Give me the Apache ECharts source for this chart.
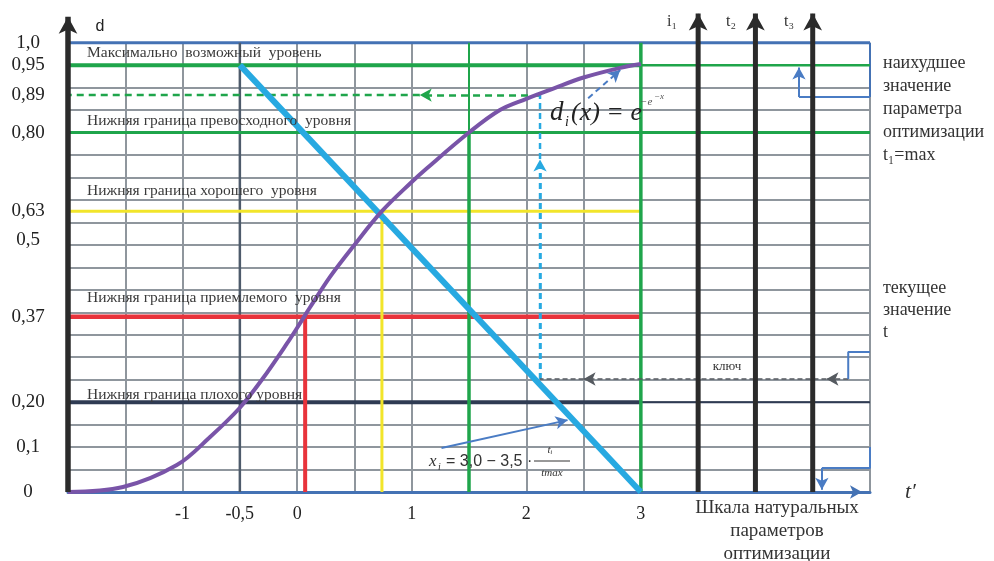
<!DOCTYPE html>
<html>
<head>
<meta charset="utf-8">
<script src="https://cdn.jsdelivr.net/npm/echarts@6/dist/echarts.min.js"></script>
<style>html,body{margin:0;padding:0;background:#fff}#c{width:994px;height:561px}</style>
</head>
<body>
<div id="c"></div>
<script>
// ---- data (y axis counted in grid rows 0..20; d tick labels sit on rows) ----
const dTickLabels = ['1,0', '0,95', '0,89', '0,80', '0,63', '0,5', '0,37', '0,20', '0,1', '0'];
const dTickRows   = [20, 19, 17.67, 16, 12.5, 11.2, 7.8, 4, 2, 0];
const xTickValues = [-1, -0.5, 0, 1, 2, 3];

const levelNames = ['Максимально  возможный  уровень', 'Нижняя граница превосходного  уровня',
  'Нижняя граница хорошего  уровня', 'Нижняя граница приемлемого  уровня', 'Нижняя граница плохого уровня'];
const levelRows = [19, 16, 12.5, 7.8, 4];          // 0,95  0,80  0,63  0,37  0,20

// desirability curve d(x)
const curveX   = [-2, -1.52, -1.05, -0.76, -0.5, -0.3, -0.09, 0.03, 0.11, 0.29, 0.5, 0.74, 1.0, 1.13, 1.5, 1.77, 2.0, 2.1, 2.23, 2.5, 2.82, 3.0];
const curveRow = [0, 0.22, 1.2, 2.45, 3.75, 5.05, 6.6, 7.55, 8.2, 9.6, 11.0, 12.5, 13.8, 14.4, 16.0, 17.0, 17.5, 17.7, 17.95, 18.45, 18.88, 19.05];

// linear transformation of the natural parameter
const transformX   = [-0.5, 3];
const transformRow = [19, 0];

const goodX = 0.74;       // x at d = 0,63
const acceptX = 0.07;     // x at d = 0,37
const excellentX = 1.5;   // x at d = 0,80
const maxX = 3;           // x at d = 0,95
const exampleX = 2.12, exampleRow = 17.67, keyRow = 5.03;
const naturalAxesX = [3.5, 4, 4.5];
const naturalAxesNames = ['i₁', 't₂', 't₃'];

// ---- chart ----
const serif = "'Liberation Serif', 'DejaVu Serif', serif";
const C = {grid:'#8f969d', slate:'#4e5b6b', navy:'#2f3b53', blue:'#4472b4', green:'#1fa54b',
  yellow:'#f2e52a', red:'#e8333b', purple:'#7954a8', cyan:'#27a9e1', black:'#2b2b2b', arrowBlue:'#4a7cc4', key:'#555a60'};

function seg(data, color, width, z, type) {
  return {type:'line', data, symbol:'none', silent:true, animation:false, z, clip:false,
    lineStyle:{color, width, type:type || 'solid', cap:'butt'}};
}
function arrow(from, to, color, width, z, type, size) {
  return {type:'line', data:[], z, silent:true, animation:false,
    markLine:{silent:true, animation:false, symbol:['none','arrow'], symbolSize:size || [10,12],
      label:{show:false}, emphasis:{disabled:true},
      lineStyle:{color, width, type:type || 'solid'},
      data:[[{coord:from}, {coord:to}]]}};
}
function upAxis(x, topRow, width, z) {
  return {type:'line', silent:true, animation:false, z, clip:false, symbol:'none', showSymbol:true,
    lineStyle:{color:C.black, width}, itemStyle:{color:C.black},
    data:[{value:[x, 0]}, {value:[x, topRow], symbol:'arrow', symbolSize:[14,17]}]};
}

const series = [];
// frame lines
series.push(seg([[-2,20],[5,20]], C.blue, 3, 3));
series.push(seg([[5,20],[5,17.58]], C.blue, 2, 3));
series.push(seg([[-0.5,0],[-0.5,20]], C.slate, 2.5, 3));
// level lines
series.push(seg([[-2,levelRows[0]],[maxX,levelRows[0]]], C.green, 4, 4));
series.push(seg([[maxX,levelRows[0]],[5,levelRows[0]]], C.green, 2.5, 4));
series.push(seg([[-2,levelRows[1]],[5,levelRows[1]]], C.green, 3, 4));
series.push(seg([[-2,levelRows[2]],[maxX,levelRows[2]]], C.yellow, 3, 4));
series.push(seg([[-2,levelRows[3]],[maxX,levelRows[3]]], C.red, 4.5, 4));
series.push(seg([[-2,levelRows[4]],[maxX,levelRows[4]]], C.navy, 4, 4));
series.push(seg([[maxX,levelRows[4]],[5,levelRows[4]]], C.navy, 2, 4));
// verticals
series.push(seg([[excellentX,20],[excellentX,levelRows[1]]], C.green, 2, 4));
series.push(seg([[excellentX,levelRows[1]],[excellentX,0]], C.green, 3.5, 4));
series.push(seg([[maxX,20],[maxX,0]], C.green, 3.5, 4));
series.push(seg([[goodX,levelRows[2]],[goodX,0]], C.yellow, 3, 4));
series.push(seg([[acceptX,levelRows[3]],[acceptX,0]], C.red, 4, 4));
// example dashed construction
series.push(seg([[1.07,exampleRow],[-2,exampleRow]], C.green, 2.5, 5, [7,5]));
series.push(arrow([exampleX,exampleRow],[1.07,exampleRow], C.green, 2.5, 5, [7,5]));
series.push(seg([[exampleX,keyRow],[exampleX,exampleRow]], C.cyan, 2.5, 5, [6,4]));
series.push(arrow([exampleX,keyRow],[exampleX,14.8], C.cyan, 2.5, 5, [6,4]));
series.push(seg([[2.5,keyRow],[exampleX,keyRow]], C.key, 1.5, 5, [5,3]));
series.push(arrow([4.62,keyRow],[2.5,keyRow], C.key, 1.5, 5, [5,3]));
series.push(arrow([4.81,keyRow],[4.62,keyRow], C.key, 1.5, 5, [5,3]));
series.push(seg([[4.81,keyRow],[4.81,6.23],[5,6.23]], C.arrowBlue, 2, 5));
// right brackets
series.push(seg([[5,17.58],[4.38,17.58]], C.arrowBlue, 2, 5));
series.push(arrow([4.38,17.58],[4.38,18.9], C.arrowBlue, 2, 5));
series.push(seg([[5,2],[5,1.07],[4.58,1.07]], C.arrowBlue, 2, 5));
series.push(arrow([4.58,1.07],[4.58,0.1], C.arrowBlue, 2, 5));
series.push(arrow([4.7,0],[4.93,0], C.blue, 2, 5));
// transformation line and desirability curve
series.push(seg(transformX.map((x,i)=>[x, transformRow[i]]), C.cyan, 6, 6));
series.push(Object.assign(seg(curveX.map((x,i)=>[x, curveRow[i]]), C.purple, 4, 7), {smooth:0.35}));
// formula pointers
series.push(arrow([2.54,17.53],[2.82,18.78], C.arrowBlue, 2, 8, [6,4]));
series.push(arrow([1.26,1.96],[2.36,3.2], C.arrowBlue, 2, 8));
// axes with arrows
series.push(upAxis(-2, 21.15, 5.5, 9));
naturalAxesX.forEach(x => series.push(upAxis(x, 21.3, 5, 9)));

function txt(text, x, y, size, opt) {
  opt = opt || {};
  return {type:'text', x, y, z:100, silent:true, style:{text, fill:opt.color || '#333',
    font:(opt.style || '') + ' ' + size + 'px ' + (opt.family || serif),
    align:opt.align || 'left', verticalAlign:'middle'}};
}
const graphic = [];
graphic.push(txt('d', 100, 27, 16, {family:"'Liberation Sans', Arial, sans-serif", align:'center', color:'#222'}));
const levelY = [53, 121, 191, 298, 395];
levelNames.forEach((n,i) => graphic.push(txt(n, 87, levelY[i], 15.5, {color:'#3a3a3a'})));
naturalAxesNames.forEach((n,i) => graphic.push(txt(n, [672,731,789][i], 22, 16, {align:'center'})));
['наихудшее','значение','параметра','оптимизации','t₁=max'].forEach((t,i)=>graphic.push(txt(t, 883, 63 + i*23, 18)));
['текущее','значение','t'].forEach((t,i)=>graphic.push(txt(t, 883, 288 + i*22, 18)));
['Шкала натуральных','параметров','оптимизации'].forEach((t,i)=>graphic.push(txt(t, 777, 508 + i*23, 19, {align:'center'})));
graphic.push(txt('ключ', 727, 367, 13, {align:'center'}));
graphic.push(txt('t′', 905, 492, 22, {style:'italic'}));
// top formula
graphic.push(txt('d', 550, 113, 27, {style:'italic', color:'#222'}));
graphic.push(txt('i', 565, 122, 14, {style:'italic', color:'#222'}));
graphic.push(txt('(x) = e', 571, 113, 26, {style:'italic', color:'#222'}));
graphic.push(txt('−e', 640, 102, 11, {style:'italic', color:'#555'}));
graphic.push(txt('−x', 654, 97, 9, {style:'italic', color:'#555'}));
// bottom formula
graphic.push(txt('x', 429, 462, 17, {style:'italic'}));
graphic.push(txt('i', 438, 467, 10, {style:'italic'}));
graphic.push(txt('= 3,0 − 3,5 ·', 446, 462, 16, {family:"'Liberation Sans', Arial, sans-serif"}));
graphic.push(txt('tᵢ', 550, 450, 11, {style:'italic', align:'center'}));
graphic.push(txt('tmax', 552, 473, 11, {style:'italic', align:'center'}));
graphic.push({type:'line', z:100, silent:true, shape:{x1:534, y1:461, x2:570, y2:461}, style:{stroke:'#333', lineWidth:1}});

const option = {
  animation:false,
  backgroundColor:'#ffffff',
  grid:{left:68, right:124, top:42.7, bottom:69, containLabel:false, outerBoundsMode:'none'},
  xAxis:{type:'value', min:-2, max:5, interval:0.5,
    axisLine:{show:true, onZero:false, lineStyle:{color:C.blue, width:3}},
    axisTick:{show:false},
    splitLine:{show:true, lineStyle:{color:C.grid, width:2}},
    axisLabel:{customValues:xTickValues, formatter:v => String(v).replace('.', ','),
      margin:13, color:'#222', fontFamily:serif, fontSize:18}},
  yAxis:{type:'value', min:0, max:20, interval:1,
    axisLine:{show:false, onZero:false}, axisTick:{show:false},
    splitLine:{show:true, lineStyle:{color:C.grid, width:2}},
    axisLabel:{customValues:dTickRows,
      formatter:v => { const i = dTickRows.findIndex(r => Math.abs(r - v) < 1e-6); return i >= 0 ? dTickLabels[i] : ''; },
      align:'center', margin:40, color:'#222', fontFamily:serif, fontSize:19}},
  series,
  graphic
};
const chart = echarts.init(document.getElementById('c'));
chart.setOption(option);
</script>
</body>
</html>
